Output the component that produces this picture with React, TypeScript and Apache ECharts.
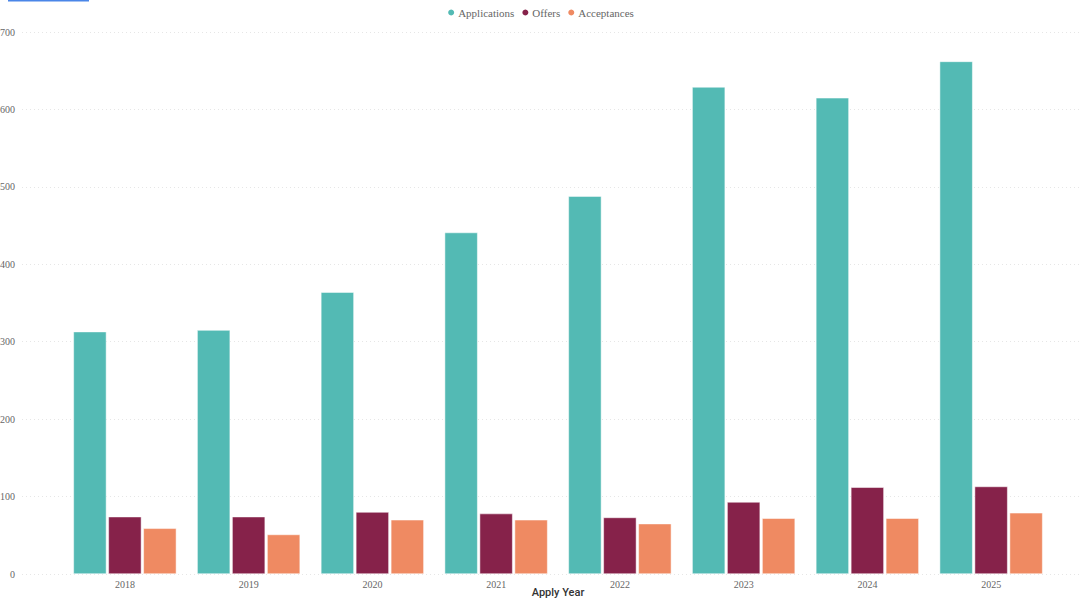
import React, { useEffect, useRef } from "react";
import * as echarts from "echarts";

const years = ["2018", "2019", "2020", "2021", "2022", "2023", "2024", "2025"];
const applications = [313, 315, 364, 441, 488, 629, 615, 662];
const offers = [74, 74, 80, 78, 73, 93, 112, 113];
const acceptances = [59, 51, 70, 70, 65, 72, 72, 79];
const yTicksMax = 700;

const serif = "'Liberation Serif', 'Times New Roman', serif";

export default function App() {
  const ref = useRef<HTMLDivElement>(null);
  useEffect(() => {
    if (!ref.current) return;
    const chart = echarts.init(ref.current, undefined, { renderer: "svg" });
    const barBase = {
      type: "bar" as const,
      barWidth: 33,
      barGap: "6%",
      xAxisIndex: 0,
      yAxisIndex: 0,
      itemStyle: { borderColor: "#ffffff", borderWidth: 0.5 },
    };
    chart.setOption({
      animation: false,
      backgroundColor: "#ffffff",
      color: ["#53BAB4", "#86224A", "#EF8A62"],
      graphic: [
        { type: "rect", shape: { x: 8, y: 0, width: 81, height: 1.5 }, style: { fill: "#4a86e8" } },
      ],
      legend: {
        top: 2,
        left: "center",
        icon: "circle",
        itemWidth: 8,
        itemHeight: 8,
        itemGap: 6,
        textStyle: { fontFamily: serif, fontSize: 11, color: "#666666", padding: [0, 0, 0, -2] },
      },
      grid: [
        { left: 63, right: 27, top: 32, bottom: 24, outerBoundsMode: "none", containLabel: false },
        { left: 22, right: 0, top: 32, bottom: 24, outerBoundsMode: "none", containLabel: false },
      ],
      xAxis: [
        {
          type: "category",
          gridIndex: 0,
          data: years,
          axisLine: { show: false },
          axisTick: { show: false },
          axisLabel: { fontFamily: serif, fontSize: 10, color: "#666666", margin: 5 },
          name: "Apply Year",
          nameLocation: "middle",
          nameGap: 13,
          nameMoveOverlap: false,
          nameTextStyle: { fontFamily: "Roboto, sans-serif", fontSize: 11, fontWeight: 500, color: "#333333" },
        },
        { type: "value", gridIndex: 1, show: false, min: 0, max: 1 },
      ],
      yAxis: [
        {
          type: "value",
          gridIndex: 0,
          min: 0,
          max: yTicksMax,
          interval: 100,
          axisLabel: { show: false },
          splitLine: { show: false },
          axisLine: { show: false },
          axisTick: { show: false },
        },
        {
          type: "value",
          gridIndex: 1,
          min: 0,
          max: yTicksMax,
          interval: 100,
          axisLine: { show: false },
          axisTick: { show: false },
          axisLabel: { fontFamily: serif, fontSize: 10, color: "#666666", margin: 7 },
          splitLine: { show: true, lineStyle: { color: "#e6e6e6", type: [1, 3], width: 1 } },
        },
      ],
      series: [
        { ...barBase, name: "Applications", data: applications },
        { ...barBase, name: "Offers", data: offers },
        { ...barBase, name: "Acceptances", data: acceptances },
      ],
    });
    return () => chart.dispose();
  }, []);
  return <div ref={ref} style={{ position: "fixed", left: 0, top: 0, width: 1080, height: 598 }} />;
}
